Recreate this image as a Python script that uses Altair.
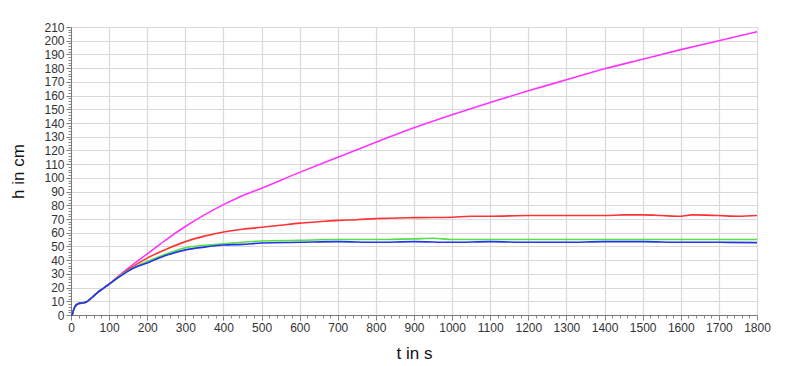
import altair as alt
import pandas as pd

# shared start (all four runs coincide)
t_start = [0, 3, 6, 10, 15, 20, 30, 40, 50, 60, 70, 80, 90, 100]
h_start = [0, 0, 3, 6, 7.5, 8.3, 8.8, 9.5, 11.5, 14, 16.5, 18.5, 20.5, 22.5]

t_magenta = [125, 150, 175, 200, 250, 300, 350, 400, 450, 500, 600, 700, 800, 900,
             1000, 1100, 1200, 1300, 1400, 1500, 1600, 1700, 1800]
h_magenta = [28.5, 34, 39.5, 44.5, 55, 64.5, 73, 80.5, 87, 92.5, 104, 115, 126, 136.5,
             146, 155, 163.5, 171.5, 179.5, 186.5, 193.5, 200, 206.5]

t_red = [125, 150, 175, 200, 250, 300, 350, 400, 450, 500, 550, 600, 650, 700, 750, 800,
         900, 1000, 1050, 1100, 1200, 1300, 1400, 1450, 1500, 1550, 1600, 1630, 1700, 1750, 1800]
h_red = [28, 33, 37.5, 41.5, 48, 53.5, 57.5, 60.5, 62.5, 64, 65.5, 67, 68, 69, 69.5, 70.3,
         71, 71.3, 72, 72, 72.5, 72.5, 72.5, 73, 73, 72.5, 72, 73, 72.5, 72, 72.5]

t_green = [125, 150, 175, 200, 250, 300, 350, 400, 450, 500, 600, 700, 800, 900, 950,
           1000, 1200, 1400, 1600, 1800]
h_green = [27.8, 32.3, 36, 39, 44.5, 49, 50.8, 52, 53, 54, 54.5, 55, 55, 55.5, 56,
           55, 55, 55, 55, 55]

t_blue = [125, 150, 175, 200, 250, 300, 350, 400, 450, 500, 600, 700, 800, 900, 1000,
          1100, 1200, 1300, 1400, 1500, 1600, 1700, 1800]
h_blue = [27.5, 32, 35.5, 38, 43.5, 47.5, 49.5, 51, 51.5, 52.5, 53, 53.5, 53, 53.5, 53,
          53.5, 53, 53, 53.5, 53.5, 53, 53, 52.8]

series_names = ["magenta", "red", "green", "blue"]
series_colors = ["#ff33ff", "#ff3333", "#55e040", "#2233ee"]

x_major = list(range(0, 1801, 100))
y_major = list(range(0, 211, 10))
x_minor = list(range(0, 1801, 20))
y_minor = list(range(0, 211, 2))

rows = []
for i, (name, ts, hs) in enumerate([("magenta", t_magenta, h_magenta), ("red", t_red, h_red),
                                    ("green", t_green, h_green), ("blue", t_blue, h_blue)]):
    for t, h in zip(t_start + ts, h_start + hs):
        rows.append({"t": t, "h": h, "series": name, "order": i})
df = pd.DataFrame(rows)

font = "Liberation Sans"
xs = alt.Scale(domain=[0, 1800], nice=False)
ys = alt.Scale(domain=[0, 210], nice=False)

x_axis = alt.Axis(
    values=x_major, format="d", orient="bottom",
    tickSize=5, grid=True,
    gridColor="#d9d9d9", gridWidth=1.2,
    domainColor="#777777", tickColor="#777777",
    labelFont=font, labelFontSize=12, labelColor="#333333", labelPadding=2,
    labelOverlap=False, labelFlush=False,
    title="t in s", titleFont=font, titleFontSize=17, titleFontWeight="normal",
    titleColor="#111111", titleX=343, titleY=38, titleBaseline="middle",
    titleAlign="center",
)
y_axis = alt.Axis(
    values=y_major, format="d", orient="left",
    tickSize=5, grid=True,
    gridColor="#d9d9d9", gridWidth=1.2,
    domainColor="#777777", tickColor="#777777",
    labelFont=font, labelFontSize=12, labelColor="#333333", labelPadding=2,
    labelOverlap=False, labelFlush=False,
    title="h in cm", titleFont=font, titleFontSize=17, titleFontWeight="normal",
    titleColor="#111111", titleX=-53, titleY=144, titleAngle=-90,
    titleBaseline="middle", titleAlign="center",
)
x_minor_axis = alt.Axis(values=x_minor, orient="bottom", labels=False, grid=False,
                        tickSize=3, domain=False, tickColor="#888888", title=None)
y_minor_axis = alt.Axis(values=y_minor, orient="left", labels=False, grid=False,
                        tickSize=3, domain=False, tickColor="#888888", title=None)

lines = alt.Chart(df).mark_line(strokeWidth=1.6, interpolate="monotone").encode(
    x=alt.X("t:Q", scale=xs, axis=x_axis),
    y=alt.Y("h:Q", scale=ys, axis=y_axis),
    color=alt.Color("series:N", scale=alt.Scale(domain=series_names, range=series_colors),
                    legend=None),
    order=alt.Order("t:Q"),
    detail="series:N",
)

minor = alt.Chart(df).mark_point(opacity=0).encode(
    x=alt.X("t:Q", scale=xs, axis=x_minor_axis),
    y=alt.Y("h:Q", scale=ys, axis=y_minor_axis),
)

chart = alt.layer(lines, minor).resolve_axis(
    x="independent", y="independent"
).properties(
    width=686, height=288,
    autosize=alt.AutoSizeParams(type="none"),
    padding={"left": 71, "top": 27, "right": 43, "bottom": 51},
).configure_view(stroke=None).configure(background="white")

chart.save("out.html", embed_options={"renderer": "svg", "actions": False})
